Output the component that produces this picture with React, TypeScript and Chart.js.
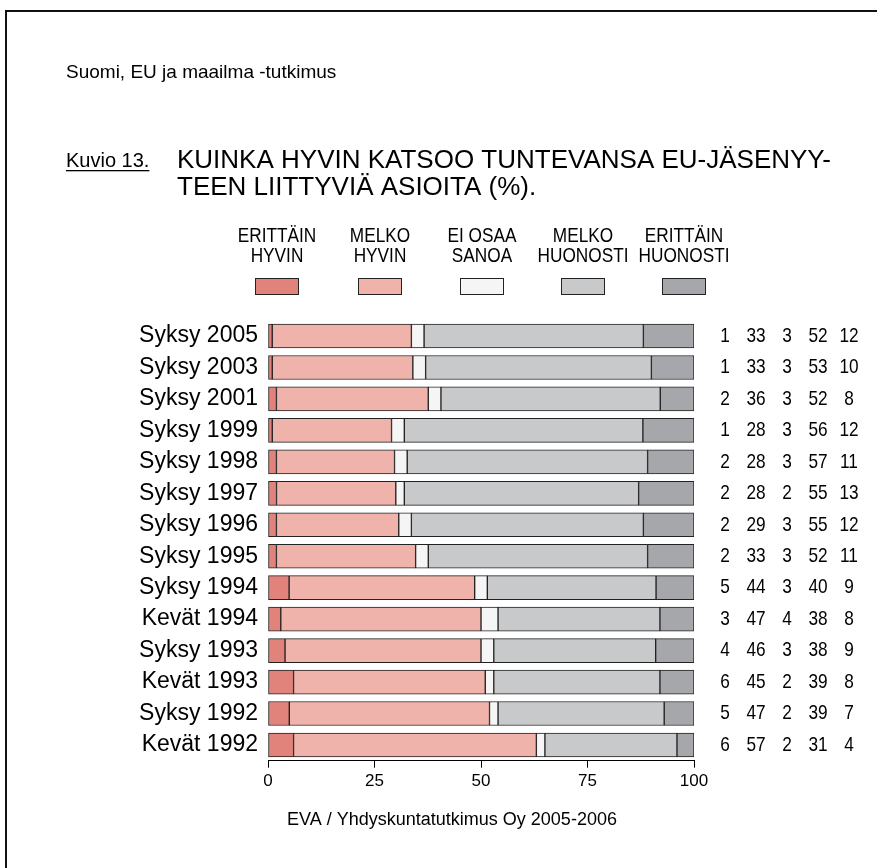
import React, { useEffect, useRef } from "react";
import { Chart, registerables } from "chart.js";

Chart.register(...registerables);

const categories = [
  "Syksy 2005", "Syksy 2003", "Syksy 2001", "Syksy 1999", "Syksy 1998", "Syksy 1997", "Syksy 1996",
  "Syksy 1995", "Syksy 1994", "Kevät 1994", "Syksy 1993", "Kevät 1993", "Syksy 1992", "Kevät 1992",
];
const erittainHyvin = [1, 1, 2, 1, 2, 2, 2, 2, 5, 3, 4, 6, 5, 6];
const melkoHyvin = [33, 33, 36, 28, 28, 28, 29, 33, 44, 47, 46, 45, 47, 57];
const eiOsaaSanoa = [3, 3, 3, 3, 3, 2, 3, 3, 3, 4, 3, 2, 2, 2];
const melkoHuonosti = [52, 53, 52, 56, 57, 55, 55, 52, 40, 38, 38, 39, 39, 31];
const erittainHuonosti = [12, 10, 8, 12, 11, 13, 12, 11, 9, 8, 9, 8, 7, 4];
const seriesLabels = [["ERITTÄIN", "HYVIN"], ["MELKO", "HYVIN"], ["EI OSAA", "SANOA"], ["MELKO", "HUONOSTI"], ["ERITTÄIN", "HUONOSTI"]];
const xTicks = [0, 25, 50, 75, 100];
const subtitle = "Suomi, EU ja maailma -tutkimus";
const figLabel = "Kuvio 13.";
const titleLines = ["KUINKA HYVIN KATSOO TUNTEVANSA EU-JÄSENYY-", "TEEN LIITTYVIÄ ASIOITA (%)."];
const footer = "EVA / Yhdyskuntatutkimus Oy 2005-2006";

const colors = ["#E2837B", "#F0B3AB", "#F4F5F4", "#C8C9CB", "#A6A7AB"];
const SANS = "'Liberation Sans', Arial, sans-serif";

function narrow(ctx: CanvasRenderingContext2D, text: string, x: number, y: number, size: number) {
  ctx.save();
  ctx.translate(x, y);
  ctx.scale(0.82, 1);
  ctx.font = `${size}px ${SANS}`;
  ctx.textAlign = "center";
  ctx.textBaseline = "middle";
  ctx.fillText(text, 0, 0);
  ctx.restore();
}

export default function App() {
  const ref = useRef<HTMLCanvasElement>(null);
  useEffect(() => {
    const series = [erittainHyvin, melkoHyvin, eiOsaaSanoa, melkoHuonosti, erittainHuonosti];
    const sums = categories.map((_, i) => series.reduce((a, s) => a + s[i], 0));
    const decor = {
      id: "decor",
      beforeDraw(chart: any) {
        const ctx = chart.ctx;
        ctx.save();
        ctx.fillStyle = "#fff";
        ctx.fillRect(0, 0, chart.width, chart.height);
        ctx.restore();
      },
      afterDraw(chart: any) {
        const ctx = chart.ctx;
        const area = chart.chartArea;
        const yS = chart.scales.y;
        ctx.save();
        ctx.strokeStyle = "#111";
        ctx.lineWidth = 2;
        ctx.strokeRect(6, 11, 1000, 1000);
        ctx.fillStyle = "#000";
        ctx.textBaseline = "middle";
        ctx.textAlign = "left";
        ctx.font = `19px ${SANS}`;
        ctx.fillText(subtitle, 66, 73);
        ctx.font = `20px ${SANS}`;
        ctx.fillText(figLabel, 66, 161);
        const w = ctx.measureText(figLabel).width;
        ctx.fillRect(66, 170, w, 1.3);
        ctx.font = `26px ${SANS}`;
        ctx.fillText(titleLines[0], 177, 161);
        ctx.fillText(titleLines[1], 177, 188);
        // legend
        const centers = [277, 380, 482, 583, 684];
        centers.forEach((cx, k) => {
          ctx.fillStyle = "#000";
          narrow(ctx, seriesLabels[k][0], cx, 236, 21);
          narrow(ctx, seriesLabels[k][1], cx, 256, 21);
          ctx.fillStyle = colors[k];
          ctx.fillRect(cx - 22, 278, 44, 17);
          ctx.strokeStyle = "#222";
          ctx.lineWidth = 1;
          ctx.strokeRect(cx - 21.5, 278.5, 43, 16);
        });
        // numbers
        ctx.fillStyle = "#000";
        const offs = [31, 62, 93, 124, 155];
        categories.forEach((_, i) => {
          const y = yS.getPixelForValue(i);
          series.forEach((s, k) => {
            narrow(ctx, String(s[i]), area.right + offs[k], y, 21);
          });
        });
        ctx.textAlign = "center";
        ctx.font = `18px ${SANS}`;
        ctx.fillText(footer, 452, 820);
        ctx.restore();
      },
    };
    const chart = new Chart(ref.current!, {
      type: "bar",
      data: {
        labels: categories,
        datasets: series.map((s, k) => ({
          label: seriesLabels[k].join(" "),
          data: s.map((v, i) => (v / sums[i]) * 100),
          backgroundColor: colors[k],
          borderColor: "#222",
          borderWidth: 1,
          borderSkipped: false,
          barThickness: 24,
        })),
      },
      options: {
        indexAxis: "y",
        animation: false,
        responsive: false,
        layout: { padding: { left: 0, right: 183, top: 320.3, bottom: 77.3 } },
        plugins: { legend: { display: false }, tooltip: { enabled: false }, title: { display: false } },
        scales: {
          x: {
            stacked: true,
            min: 0,
            max: 100,
            afterFit: (s: any) => { s.height = 30; },
            afterBuildTicks: (s: any) => { s.ticks = xTicks.map((v) => ({ value: v })); },
            ticks: { color: "#000", font: { size: 17, family: SANS }, padding: 3 },
            grid: { display: true, drawOnChartArea: false, drawTicks: true, tickLength: 7, color: "#000" },
            border: { display: true, color: "#000", width: 1 },
          },
          y: {
            stacked: true,
            afterFit: (s: any) => { s.width = 268; },
            ticks: { color: "#000", font: { size: 23, family: SANS }, padding: 2 },
            grid: { display: false },
            border: { display: false },
          },
        },
      },
      plugins: [decor],
    });
    return () => chart.destroy();
  }, []);
  return (
    <div style={{ position: "absolute", left: 0, top: 0, width: 877, height: 868 }}>
      <canvas ref={ref} width={877} height={868} style={{ width: 877, height: 868, display: "block" }} />
    </div>
  );
}
